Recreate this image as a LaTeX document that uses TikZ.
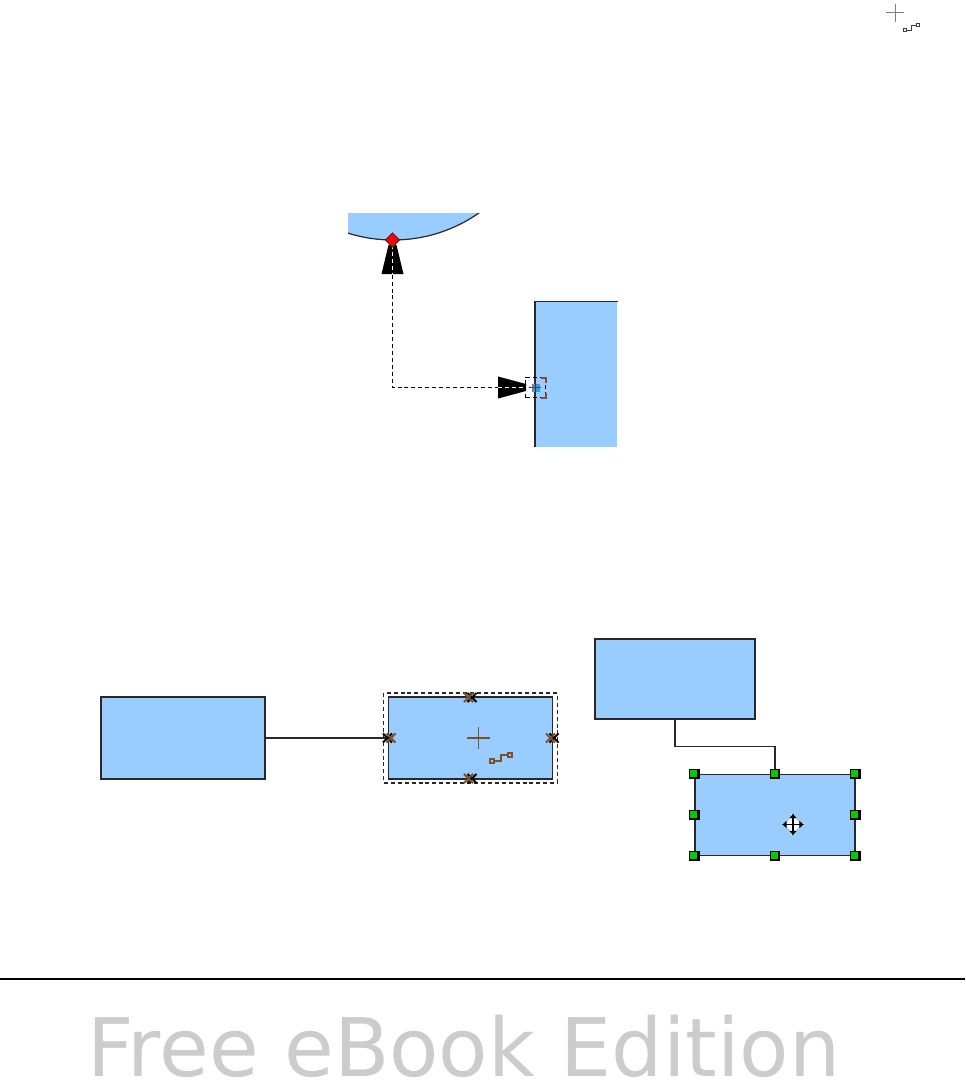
\documentclass[tikz,border=0pt]{standalone}
\usepackage{fontspec}
\setmainfont{DejaVu Sans}
\usetikzlibrary{shapes.geometric,shapes.misc,arrows.meta}
\definecolor{ShapeBlue}{RGB}{153,204,255}
\definecolor{LineGray}{RGB}{40,40,40}
\definecolor{CursorBrown}{RGB}{125,80,40}
\definecolor{HandleGreen}{RGB}{0,204,0}
\definecolor{WatermarkGray}{RGB}{204,204,204}
\begin{document}
\begin{tikzpicture}[
  x=0.75pt,y=-0.75pt,
  shapebox/.style={draw=LineGray,fill=ShapeBlue,line width=0.9pt,inner sep=0pt},
  conn/.style={draw=LineGray,line width=0.85pt},
  gluept/.style={cross out,draw=#1,line width=1.4pt,minimum size=5.5pt,inner sep=0pt},
  handlek/.style={fill=black,minimum size=7.8pt,inner sep=0pt},
  handle/.style={fill=HandleGreen,minimum size=5.2pt,inner sep=0pt},
  hair/.style={line width=0.9pt},
  framed/.style={draw=LineGray,dash pattern=on 3pt off 2.2pt,line width=0.85pt,inner sep=0pt},
  dashline/.style={line width=0.85pt,dash pattern=on 3pt off 2.2pt},
]
\useasboundingbox (0,0) rectangle (965,1081);
% top corner cursor
\coordinate (cur1) at (895,13);
\draw[hair,gray,line width=0.75pt] ([xshift=-6.4pt]cur1) -- ([xshift=6.4pt]cur1);
\draw[hair,gray,line width=0.75pt] ([yshift=-6.4pt]cur1) -- ([yshift=6.4pt]cur1);
\node[draw=black!75,line width=0.7pt,minimum size=2.4pt,inner sep=0pt] (cur1a) at (905,30) {};
\node[draw=black!75,line width=0.7pt,minimum size=2.4pt,inner sep=0pt] (cur1b) at (918,25) {};
\draw[black!75,line width=0.7pt] (cur1a) -- (911,30) -- (911,25) -- (cur1b);
% cropped ellipse
\begin{scope}
\clip (348,213) rectangle (480,242);
\draw[fill=ShapeBlue,draw=LineGray,line width=0.9pt] (393,90) circle[radius=112.5pt];
\end{scope}
% cropped rectangle
\node[fill=ShapeBlue,minimum width=61.5pt,minimum height=109.1pt,inner sep=0pt] (rectb) at (576.3,374.25) {};
\draw[LineGray,line width=0.9pt] (rectb.south west) -- (rectb.north west) -- (rectb.north east);
% dashed connector
\coordinate (ptred) at (392.5,240);
\coordinate (ptblue) at (535.5,387.5);
\coordinate (ptbend) at (392.5,387.5);
\coordinate (headvt) at (392.5,245);
\coordinate (headvb) at (392.5,274);
\coordinate (headhb) at (498,387.5);
\coordinate (headht) at (526,387.5);
\draw[dashline] (ptred) -- (ptbend) -- (ptblue);
\fill[black] (388.5,245) -- (396.5,245) -- (403.5,274) -- (381.5,274) -- cycle;
\fill[black] (498,376.5) -- (526,384) -- (526,391) -- (498,398.5) -- cycle;
\draw[white,dashline] (headvt) -- (headvb);
\draw[white,dashline] (headhb) -- (headht);
\node[diamond,draw=LineGray,fill=red,line width=0.6pt,minimum size=11pt,inner sep=0pt] (mkred) at (ptred) {};
\node[fill=cyan,minimum size=6pt,inner sep=0pt] (mkblue) at (ptblue) {};
\draw[red,line width=1.1pt] ([xshift=-4pt]ptblue) -- ([xshift=4pt]ptblue);
\draw[red!70!black,line width=1.1pt] ([yshift=-4.5pt]ptblue) -- ([yshift=4.5pt]ptblue);
\node[framed,draw=black,line width=0.7pt,minimum width=14.5pt,minimum height=15.5pt] (frm1) at (535.5,387.5) {};
\draw[CursorBrown,line width=0.9pt] (541,378) -- (546,378) -- (546,383);
\draw[CursorBrown,line width=0.9pt] (546,393) -- (546,398) -- (541,398);
% lower left pair
\node[shapebox,minimum width=123pt,minimum height=61.5pt] (boxa) at (183,738) {};
\node[shapebox,minimum width=123.5pt,minimum height=61.5pt] (boxb) at (470.5,738) {};
\draw[conn] (boxa.east) -- (boxb.west);
\node[framed,minimum width=130pt,minimum height=67.5pt] (frm2) at (470.5,738) {};
\node[gluept=black] (g1k) at (387.5,738) {};
\node[gluept=CursorBrown] (g1) at (391,738) {};
\node[gluept=black] (g2k) at (472,697.5) {};
\node[gluept=CursorBrown] (g2) at (468.5,697.5) {};
\node[gluept=black] (g3k) at (554,738) {};
\node[gluept=CursorBrown] (g3) at (550.5,738) {};
\node[gluept=black] (g4k) at (472,778.5) {};
\node[gluept=CursorBrown] (g4) at (468.5,778.5) {};
\coordinate (cur2) at (478.5,738);
\draw[hair,CursorBrown] ([xshift=-8.6pt]cur2) -- ([xshift=8.6pt]cur2);
\draw[hair,CursorBrown] ([yshift=-8.6pt]cur2) -- ([yshift=8.6pt]cur2);
\node[draw=CursorBrown,line width=0.8pt,minimum size=3pt,inner sep=0pt] (cur2a) at (492,761) {};
\node[draw=CursorBrown,line width=0.8pt,minimum size=3pt,inner sep=0pt] (cur2b) at (510,755) {};
\draw[CursorBrown,line width=0.8pt] (cur2a) -- (501,761) -- (501,755) -- (cur2b);
% lower right pair
\node[shapebox,minimum width=120pt,minimum height=60pt] (boxc) at (675,679) {};
\node[shapebox,minimum width=120pt,minimum height=60.75pt] (boxd) at (775,815) {};
\coordinate (bend) at (725,746.5);
\draw[conn] (boxc.south) |- (bend) -| (boxd.north);
\foreach \a/\n in {north west/nw,north/n,north east/ne,west/w,east/e,south west/sw,south/s,south east/se}{
  \node[handlek] (hk\n) at (boxd.\a) {};
  \node[handle,xshift=-0.5pt,yshift=0.5pt] (h\n) at (boxd.\a) {};
}
\coordinate (mv) at (793,824.5);
\node[diamond,fill=white,minimum size=13pt,inner sep=0pt] (mvbg) at (mv) {};
\draw[white,line width=2.6pt] ([xshift=-8pt]mv) -- ([xshift=8pt]mv);
\draw[white,line width=2.6pt] ([yshift=-8pt]mv) -- ([yshift=8pt]mv);
\draw[black,line width=1.1pt,{Latex[length=3.5pt,width=6pt]}-{Latex[length=3.5pt,width=6pt]}] ([xshift=-8.3pt]mv) -- ([xshift=8.3pt]mv);
\draw[black,line width=1.1pt,{Latex[length=3.5pt,width=6pt]}-{Latex[length=3.5pt,width=6pt]}] ([yshift=-8.3pt]mv) -- ([yshift=8.3pt]mv);
% footer
\coordinate (rulel) at (0,979);
\coordinate (ruler) at (965,979);
\draw[black,line width=1.4pt] (rulel) -- (ruler);
\node[anchor=base west,inner sep=0pt,text=WatermarkGray,font=\fontsize{60.6pt}{60pt}\selectfont] (freetxt) at (87,1076) {Free eBook Edition};
\end{tikzpicture}
\end{document}
